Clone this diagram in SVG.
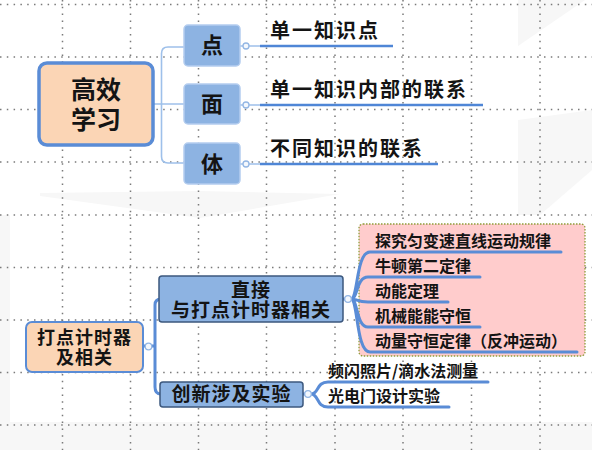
<svg xmlns="http://www.w3.org/2000/svg" width="592" height="450" viewBox="0 0 592 450">
<style>
.grid{stroke:#7a7a7a;stroke-width:1.5;fill:none}
.bg{fill:#f7f7f7}
.t{font-family:"Noto Sans CJK SC","Noto Sans",sans-serif;font-weight:bold;fill:#141414}
.peach{fill:#fbd5b5}
.blue{fill:#8db3e2}
.thin{stroke:#9ec0ea;stroke-width:1.6;fill:none}
.thick{stroke:#5a8cd6;stroke-width:3;fill:none;stroke-linecap:round}
.ul{stroke:#4f86d6;stroke-width:2.6;fill:none}
.dot{fill:#f4f8fd;stroke:#93b6e4;stroke-width:1.3}
</style>
<rect width="592" height="450" fill="#ffffff"/>
<g id="background">
<polygon class="bg" points="518,0 585,0 518,46"/>
<polygon class="bg" points="518,120 592,110 592,170 540,215 518,215"/>
<polygon class="bg" points="0,215 10,215 10,422 0,422"/>
<polygon class="bg" points="0,422 592,422 592,450 0,450"/>
<polygon class="bg" points="40,193 200,191 340,194 200,218 40,196"/>
</g>
<g id="grid">
<path class="grid" stroke-dasharray="1.5 5.3" d="M62.5 0V450M130.5 0V450M198.5 0V450M266.5 0V450M335 0V450M403 0V450M471.5 0V450M540 0V450"/>
<path class="grid" stroke-dasharray="1.5 5.3" d="M0 4.5H592M0 57H592M0 109.5H592M0 162H592M0 215H592M0 267.5H592M0 320H592M0 372.5H592M0 425H592"/>
</g>
<g id="connectors">
<path class="thin" d="M154 104H161.5M184 47H168Q161.5 47 161.5 53.5V156.5Q161.5 163 168 163H184M161.5 104H184"/>
<path class="thin" d="M240 46H243M249 46H260M240 105H243M249 105H260M240 164H243M249 164H260"/>
<path class="ul" d="M260 46H393M260 105H483M260 164H438"/>
<circle class="dot" cx="246" cy="46" r="3"/>
<circle class="dot" cx="246" cy="105" r="3"/>
<circle class="dot" cx="246" cy="164" r="3"/>
<path class="thick" d="M143 346H148"/>
<path class="thick" d="M152 346H155M160 299H161Q155 299 155 305V387Q155 394 161 394H160"/>
<circle class="dot" cx="148.5" cy="346.5" r="3.3"/>
<path class="thick" d="M343 299H346"/>
<path class="thick" d="M303 394H305"/>
<path class="thick" d="M311 394C319 394 316 382 328 382H488M311 394C319 394 316 407 328 407H449"/>
<circle class="dot" cx="308" cy="394" r="3.3"/>
</g>
<g id="node-gaoxiao">
<rect x="39" y="63" width="114" height="82" rx="8" class="peach" stroke="#5a8cd6" stroke-width="3.5"/>
<text class="t" font-size="25" text-anchor="middle"><tspan x="96" y="99">高效</tspan><tspan x="96" y="129">学习</tspan></text>
</g>
<g id="node-dian">
<rect x="184" y="25" width="56" height="41" rx="4" class="blue" stroke="#b4cdef" stroke-width="1.5"/>
<text class="t" x="212" y="53" font-size="22" text-anchor="middle">点</text>
</g>
<g id="node-mian">
<rect x="184" y="84" width="56" height="40" rx="4" class="blue" stroke="#b4cdef" stroke-width="1.5"/>
<text class="t" x="212" y="112" font-size="22" text-anchor="middle">面</text>
</g>
<g id="node-ti">
<rect x="184" y="143" width="56" height="41" rx="4" class="blue" stroke="#b4cdef" stroke-width="1.5"/>
<text class="t" x="212" y="172" font-size="22" text-anchor="middle">体</text>
</g>
<g id="leaf-1"><text class="t" x="270" y="38" font-size="20" letter-spacing="2">单一知识点</text></g>
<g id="leaf-2"><text class="t" x="270" y="97" font-size="20" letter-spacing="2">单一知识内部的联系</text></g>
<g id="leaf-3"><text class="t" x="270" y="156" font-size="20" letter-spacing="2">不同知识的联系</text></g>
<g id="node-dadian">
<rect x="26" y="322" width="117" height="50" rx="6" class="peach" stroke="#5a8cd6" stroke-width="2"/>
<text class="t" font-size="18" text-anchor="middle" letter-spacing="1"><tspan x="84.5" y="344">打点计时器</tspan><tspan x="84.5" y="364">及相关</tspan></text>
</g>
<g id="node-zhijie">
<rect x="159" y="276" width="184" height="46" rx="3" class="blue" stroke="#3c587e" stroke-width="1.5"/>
<text class="t" font-size="19" text-anchor="middle" letter-spacing="1"><tspan x="251" y="297">直接</tspan><tspan x="251" y="317">与打点计时器相关</tspan></text>
</g>
<g id="node-chuangxin">
<rect x="160" y="382" width="143" height="25" rx="3" class="blue" stroke="#3c587e" stroke-width="1.5"/>
<text class="t" x="231.5" y="401" font-size="19" text-anchor="middle" letter-spacing="1">创新涉及实验</text>
</g>
<g id="box-direct">
<rect x="359" y="224" width="226" height="132" rx="4" fill="#ffcccc" stroke="#8e9d3a" stroke-width="1.3" stroke-dasharray="1.5 1.5"/>
</g>
<g id="connectors-fan">
<path class="thick" d="M351 299C358 299 356 252 370 252H561M351 299C358 299 356 277 368 277H480M351 299C358 299 356 302 368 302H448M351 299C358 299 356 327 368 327H480M351 299C358 299 356 352 370 352H577"/>
<circle class="dot" cx="348" cy="299" r="3.3"/>
</g>
<g id="item-1"><text class="t" x="375" y="247" font-size="16">探究匀变速直线运动规律</text></g>
<g id="item-2"><text class="t" x="375" y="272" font-size="16">牛顿第二定律</text></g>
<g id="item-3"><text class="t" x="375" y="297" font-size="16">动能定理</text></g>
<g id="item-4"><text class="t" x="375" y="322" font-size="16">机械能能守恒</text></g>
<g id="item-5"><text class="t" x="375" y="347" font-size="16">动量守恒定律（反冲运动）</text></g>
<g id="item-6"><text class="t" x="328" y="377" font-size="16">频闪照片/滴水法测量</text></g>
<g id="item-7"><text class="t" x="328" y="402" font-size="16">光电门设计实验</text></g>
</svg>
